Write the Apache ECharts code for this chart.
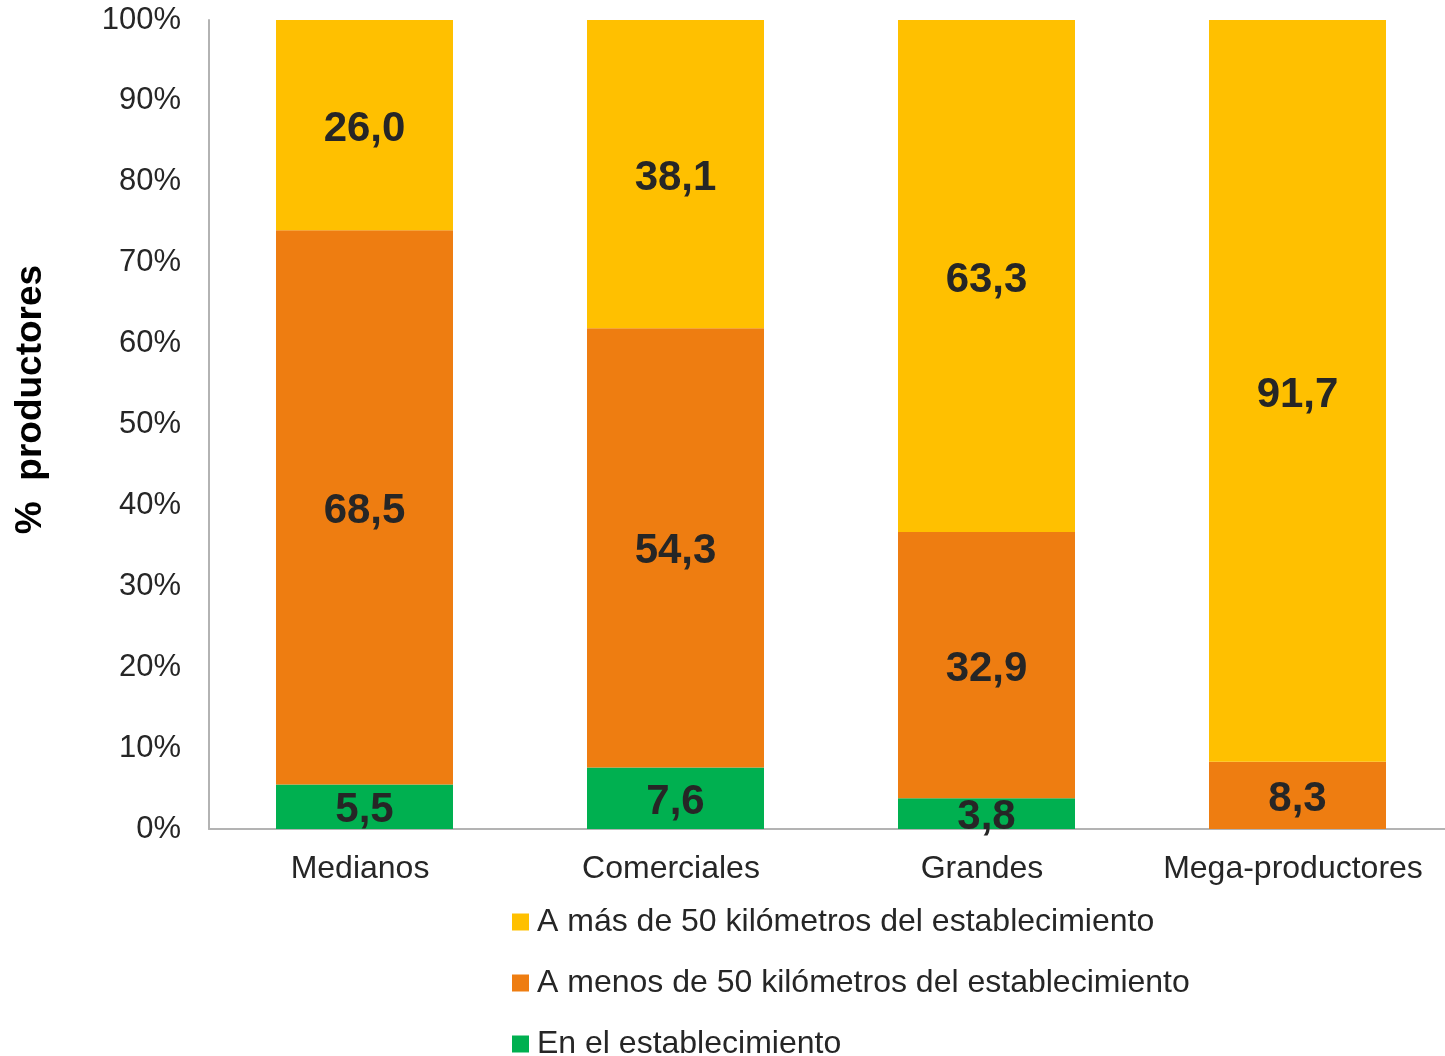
<!DOCTYPE html>
<html>
<head>
<meta charset="utf-8">
<style>
  html, body { margin: 0; padding: 0; background: #fff; overflow: hidden; }
  #chart { width: 1453px; height: 1056px; }
</style>
<script src="https://cdn.jsdelivr.net/npm/echarts@6/dist/echarts.min.js"></script>
</head>
<body>
<div id="chart"></div>
<script>
// Producer categories and distance shares (% of producers)
const categories = ['Medianos', 'Comerciales', 'Grandes', 'Mega-productores'];
const enEstablecimiento = [5.5, 7.6, 3.8, 0];
const menos50km = [68.5, 54.3, 32.9, 8.3];
const mas50km = [26.0, 38.1, 63.3, 91.7];
const yTicks = [0, 10, 20, 30, 40, 50, 60, 70, 80, 90, 100];

const seriesNames = [
  'A más de 50 kilómetros del establecimiento',
  'A menos de 50 kilómetros del establecimiento',
  'En el establecimiento'
];
const colors = { mas: '#FFC000', menos: '#EE7D11', en: '#00B050' };

const font = 'Liberation Sans, Arial, sans-serif';
const textColor = '#262626';

function barLabel() {
  return {
    show: true,
    position: 'inside',
    offset: [0, 4],
    fontFamily: font,
    fontWeight: 'bold',
    fontSize: 42,
    color: textColor,
    formatter: p => p.value > 0 ? p.value.toFixed(1).replace('.', ',') : ''
  };
}

// one legend block per row, stacked vertically below the axis
const legendRows = seriesNames.map((name, i) => ({
  orient: 'vertical',
  left: 507,
  top: 901 + i * 61,
  itemWidth: 17,
  itemHeight: 17,
  icon: 'rect',
  data: [name],
  textStyle: { fontFamily: font, fontSize: 32, color: textColor, padding: [0, 0, 0, 3] }
}));

const chart = echarts.init(document.getElementById('chart'));
chart.setOption({
  animation: false,
  grid: { left: 209, top: 20, right: 0, bottom: 227, containLabel: false },
  legend: legendRows,
  xAxis: {
    type: 'category',
    data: categories,
    axisLine: { lineStyle: { color: '#B3B3B3', width: 2 } },
    axisTick: { show: false },
    axisLabel: {
      interval: 0, fontFamily: font, fontSize: 32, color: textColor, margin: 24,
      padding: [0, 9, 0, 0]
    }
  },
  yAxis: {
    type: 'value',
    min: yTicks[0],
    max: yTicks[yTicks.length - 1],
    interval: 10,
    name: '%  productores',
    nameLocation: 'middle',
    nameGap: 160,
    nameTextStyle: {
      fontFamily: font, fontSize: 37, fontWeight: 'bold', color: '#000',
      padding: [0, 0, 0, 50]
    },
    axisLine: { show: true, lineStyle: { color: '#B3B3B3', width: 2 } },
    axisTick: { show: false },
    splitLine: { show: false },
    axisLabel: {
      fontFamily: font, fontSize: 31, color: textColor, margin: 28,
      padding: [8, 0, 0, 0],
      formatter: v => v + '%'
    }
  },
  series: [
    {
      name: seriesNames[2], type: 'bar', stack: 'total', barWidth: 177,
      data: enEstablecimiento, itemStyle: { color: colors.en }, label: barLabel()
    },
    {
      name: seriesNames[1], type: 'bar', stack: 'total', barWidth: 177,
      data: menos50km, itemStyle: { color: colors.menos }, label: barLabel()
    },
    {
      name: seriesNames[0], type: 'bar', stack: 'total', barWidth: 177,
      data: mas50km, itemStyle: { color: colors.mas }, label: barLabel()
    }
  ]
});
</script>
</body>
</html>
